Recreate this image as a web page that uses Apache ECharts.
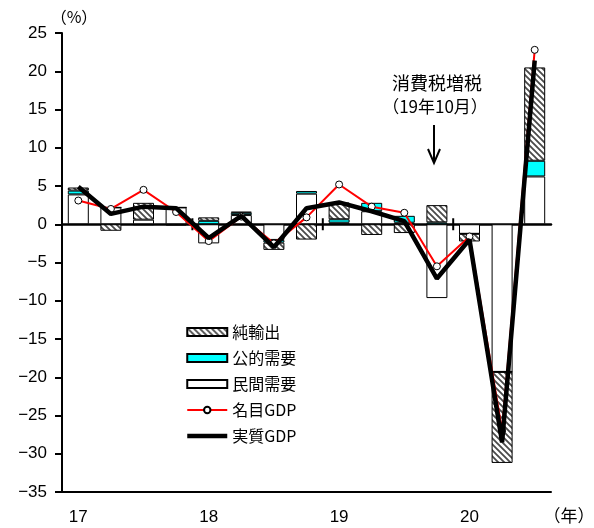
<!DOCTYPE html>
<html>
<head>
<meta charset="utf-8">
<script src="https://cdn.jsdelivr.net/npm/echarts@6/dist/echarts.min.js"></script>
<style>
  html, body { margin: 0; padding: 0; background: #fff; }
  #chart { width: 594px; height: 528px; }
</style>
</head>
<body>
<div id="chart"></div>
<script>
// Quarterly annualised GDP growth and demand contributions (%)
const quarters = ['17Q1','17Q2','17Q3','17Q4','18Q1','18Q2','18Q3','18Q4',
                  '19Q1','19Q2','19Q3','19Q4','20Q1','20Q2','20Q3'];
const privateDemand = [3.9, 2.2, 0.6, 2.2, -2.5, 1.2, -2.05, 4.0, 0.2, 1.7, 0.2, -9.65, -1.25, -19.3, 6.25];
const publicDemand  = [0.5, 0, -0.1, 0, 0.45, 0.3, -0.35, 0.35, 0.45, 1.1, 0.9, 0.25, 0, 0, 2.05];
const netExports    = [0.4, -0.85, 2.2, -0.15, 0.45, 0.15, -0.95, -2.0, 2.2, -1.4, -1.15, 2.25, -1.0, -11.9, 12.2];
const nominalGDP    = [3.1, 2.0, 4.5, 1.6, -2.2, 1.0, -2.5, 0.9, 5.2, 2.3, 1.5, -5.5, -1.6, -27.0, 22.8];
const realGDP       = [4.9, 1.35, 2.3, 2.1, -1.8, 1.1, -3.0, 2.1, 2.85, 1.7, 0.4, -7.1, -2.0, -28.5, 21.4];
const yearStarts    = [4, 8, 12];   // first quarter of 18, 19, 20

// diagonal hatch fill for net exports
function hatchPattern() {
  const s = 6;
  const c = document.createElement('canvas');
  c.width = s; c.height = s;
  const g = c.getContext('2d');
  g.fillStyle = '#fff';
  g.fillRect(0, 0, s, s);
  g.strokeStyle = '#4a4a4a';
  g.lineWidth = 1.8;
  g.beginPath();
  for (let k = -1; k <= 1; k++) {
    g.moveTo(k * s - 1, -1);
    g.lineTo(k * s + s + 1, s + 1);
  }
  g.stroke();
  return { image: c, repeat: 'repeat' };
}

const CJK = '"Noto Sans CJK JP", sans-serif';
const LAT = '"Liberation Sans", Arial, sans-serif';
const barBorder = { borderColor: '#000', borderWidth: 1 };

const chart = echarts.init(document.getElementById('chart'), null, { renderer: 'canvas' });

chart.setOption({
  animation: false,
  backgroundColor: '#fff',
  grid: { left: 62, top: 33, width: 489, height: 459 },
  legend: {
    orient: 'vertical',
    left: 185,
    top: 324,
    padding: 0,
    itemWidth: 40,
    itemHeight: 8,
    itemGap: 10,
    selectedMode: false,
    textStyle: { fontSize: 16, color: '#000', fontFamily: CJK },
    data: [
      { name: '純輸出', icon: 'rect' },
      { name: '公的需要', icon: 'rect' },
      { name: '民間需要', icon: 'rect' },
      { name: '名目GDP', lineStyle: { color: '#ff0000', width: 2 } },
      { name: '実質GDP', lineStyle: { color: '#000', width: 4.5 },
        itemStyle: { color: 'rgba(0,0,0,0)', borderWidth: 0 } }
    ]
  },
  xAxis: [
    {
      type: 'category',
      data: quarters,
      position: 'bottom',
      axisLine: { onZero: false, lineStyle: { color: '#000', width: 2 } },
      axisTick: { interval: (i) => i % 4 === 0, length: 6, lineStyle: { color: '#000', width: 2 } },
      axisLabel: {
        interval: 0,
        margin: 17,
        color: '#000',
        fontSize: 17,
        fontFamily: LAT,
        formatter: (q) => (q.endsWith('Q1') ? q.slice(0, 2) : '')
      },
      splitLine: { show: false }
    },
    {
      // zero line
      type: 'category',
      data: quarters,
      position: 'top',
      axisLine: { onZero: true, lineStyle: { color: '#000', width: 2.5 } },
      axisTick: { show: false },
      axisLabel: { show: false },
      splitLine: { show: false }
    }
  ],
  yAxis: {
    type: 'value',
    min: -35,
    max: 25,
    interval: 5,
    axisLine: { show: true, lineStyle: { color: '#000', width: 2 } },
    axisTick: { show: true, length: 7, lineStyle: { color: '#000', width: 2 } },
    axisLabel: {
      margin: 15,
      color: '#000',
      fontSize: 17,
      fontFamily: LAT,
      formatter: (v) => (v < 0 ? '\u2212' + Math.abs(v) : String(v))
    },
    splitLine: { show: false }
  },
  graphic: [
    { type: 'text', silent: true, style: { x: 74, y: 17, text: '（%）', fill: '#000', font: '16px ' + CJK, textAlign: 'center', textVerticalAlign: 'middle' } },
    { type: 'text', silent: true, style: { x: 569, y: 516, text: '（年）', fill: '#000', font: '17px ' + CJK, textAlign: 'center', textVerticalAlign: 'middle' } },
    { type: 'text', silent: true, style: { x: 437, y: 83, text: '消費税増税', fill: '#000', font: '18px ' + CJK, textAlign: 'center', textVerticalAlign: 'middle' } },
    { type: 'text', silent: true, style: { x: 435, y: 107, text: '（19年10月）', fill: '#000', font: '17px ' + CJK, textAlign: 'center', textVerticalAlign: 'middle' } },
    { type: 'polyline', silent: true, shape: { points: [[434, 125], [434, 163]] }, style: { stroke: '#000', lineWidth: 2, fill: null } },
    { type: 'polyline', silent: true, shape: { points: [[428, 149], [434, 163], [440, 149]] }, style: { stroke: '#000', lineWidth: 2, fill: null } }
  ],
  series: [
    {
      name: '民間需要', type: 'bar', stack: 'demand', barWidth: 21, z: 2, silent: true,
      itemStyle: Object.assign({ color: '#fff' }, barBorder),
      data: privateDemand
    },
    {
      name: '公的需要', type: 'bar', stack: 'demand', barWidth: 21, z: 2, silent: true,
      itemStyle: Object.assign({ color: '#00ffff' }, barBorder),
      data: publicDemand
    },
    {
      name: '純輸出', type: 'bar', stack: 'demand', barWidth: 21, z: 2, silent: true,
      itemStyle: Object.assign({ color: hatchPattern() }, barBorder),
      data: netExports
    },
    {
      // year separators crossing the zero line
      name: 'yearTicks', type: 'custom', silent: true, z: 3,
      renderItem: (params, api) => {
        const c = api.coord([api.value(0), 0]);
        const x = c[0] - api.size([1, 0])[0] / 2;
        return { type: 'line', shape: { x1: x, y1: c[1] - 6, x2: x, y2: c[1] + 6 }, style: { stroke: '#000', lineWidth: 2 } };
      },
      data: yearStarts.map((i) => [i, 0])
    },
    {
      name: '名目GDP', type: 'line', z: 4, silent: true,
      symbol: 'circle', symbolSize: 7, showSymbol: true,
      lineStyle: { color: '#ff0000', width: 2 },
      itemStyle: { color: '#fff', borderColor: '#000', borderWidth: 1 },
      data: nominalGDP
    },
    {
      name: '実質GDP', type: 'line', z: 5, silent: true,
      symbol: 'none',
      lineStyle: { color: '#000', width: 4.5 },
      itemStyle: { color: '#000' },
      data: realGDP
    }
  ]
});
</script>
</body>
</html>
